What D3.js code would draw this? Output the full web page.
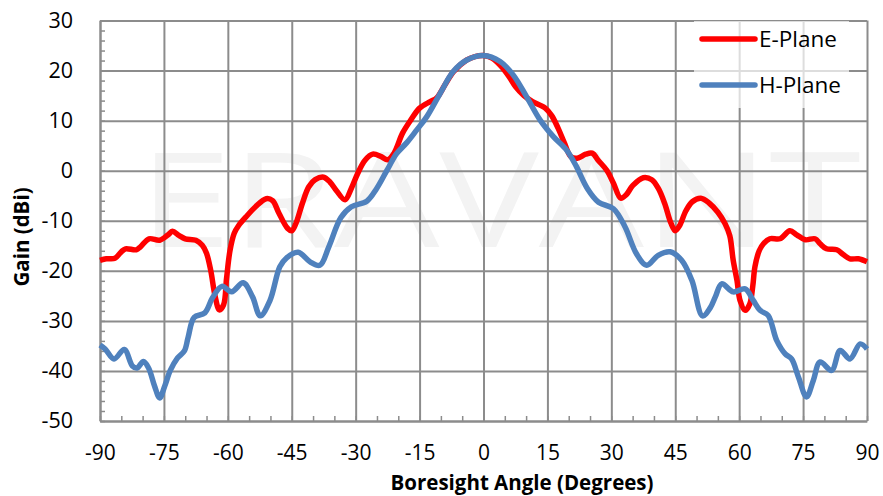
<!DOCTYPE html>
<html>
<head>
<meta charset="utf-8">
<script src="https://cdn.jsdelivr.net/npm/d3@7"></script>
<style>
  body { margin: 0; background: #fff; }
  svg { display: block; font-family: "Open Sans", "Noto Sans", sans-serif; }
</style>
</head>
<body>
<div id="chart"></div>
<script>
// series data: [angle in degrees, gain in dBi]
let ePlane = [
  [-90, -17.9], [-88.5, -17.6], [-86.5, -17.5], [-85, -16.2], [-84, -15.6], [-81.5, -15.8],
  [-80.5, -15.2], [-78.5, -13.6], [-76, -13.9], [-74, -12.8], [-73, -12.1], [-71.5, -12.9],
  [-70, -13.6], [-67.5, -13.9], [-66, -14.9], [-65, -16.5], [-64, -20], [-63, -25],
  [-62, -27.8], [-61, -26.8], [-60.3, -21.5], [-59.5, -16], [-58.5, -12.5], [-57.5, -11],
  [-55.5, -9], [-53.5, -7.2], [-51, -5.6], [-49.5, -6], [-48, -8.5], [-46, -11.5],
  [-45, -12], [-44, -10.5], [-42.5, -6.5], [-41, -3.2], [-39.5, -1.8], [-37.5, -1.3],
  [-36, -2.3], [-34.5, -4], [-32.5, -5.8], [-31, -3.5], [-29.5, -0.5], [-27.8, 2.1],
  [-26, 3.3], [-24, 2.8], [-22.5, 2.2], [-21, 3.5], [-19, 7.5], [-17, 10.2],
  [-15, 12.5], [-12.5, 13.8], [-11, 14.5], [-9, 17.2], [-7, 19.8], [-4, 22.1],
  [-2, 22.8], [0, 23], [2, 22.5], [4, 21], [6, 18.8], [7.5, 16.8],
  [9.5, 15], [11.5, 13.8], [14.5, 12.5], [16, 11], [17.5, 8.5], [19, 5.5],
  [20.5, 2.8], [22, 2.5], [24, 3.3], [25.5, 3.5], [27, 2], [29, 0],
  [30.5, -2.5], [32.2, -5.5], [33.5, -4.8], [35, -3], [37.5, -1.4], [39.5, -1.8],
  [41, -3.5], [42.5, -6.5], [44, -10.5], [45, -12], [46, -11], [47.5, -8],
  [49, -6.2], [51, -5.5], [53, -6.5], [55, -8.3], [56.7, -10.6], [57.8, -13],
  [58.6, -17.9], [59.5, -22], [60.2, -25.9], [61.4, -27.9], [62.5, -26.6], [63.2, -23],
  [63.7, -19.2], [64.7, -16], [65.7, -14.6], [67.2, -13.6], [69.6, -13.6], [71.9, -12],
  [73.5, -12.8], [75.5, -13.8], [77.8, -13.6], [79, -14.6], [80.5, -15.6], [82.9, -15.8],
  [84.5, -16.8], [86, -17.6], [88, -17.6], [90, -18.2]
];

let hPlane = [
  [-90, -34.8], [-88.8, -35.6], [-86.7, -37.6], [-84.3, -35.7], [-82.4, -39], [-81.3, -39.4],
  [-79.8, -38.1], [-78.6, -39.4], [-77.2, -43], [-76, -45.4], [-74.8, -43], [-73.5, -39.9],
  [-71.8, -37.4], [-70.2, -36], [-69.3, -33.2], [-67.9, -29.3], [-65.4, -28.4], [-63.6, -25.4],
  [-61.4, -23.1], [-59.1, -24.2], [-56.4, -22.4], [-54.2, -25.2], [-52.4, -29], [-50.1, -25.9],
  [-47.8, -19.2], [-46.2, -17.4], [-43.5, -16.3], [-40.7, -18.2], [-38.4, -18.9], [-36.3, -15.2],
  [-33.5, -9.4], [-31, -7.2], [-27.4, -6.1], [-25.1, -3.6], [-22.7, 0], [-20.4, 3.4],
  [-18, 5.6], [-15.7, 8.1], [-13.3, 10.8], [-10.2, 15.4], [-7.1, 19.8], [-3.9, 22.1],
  [0, 23], [3.9, 21.8], [7, 19.1], [10.1, 14.8], [13.3, 10.1], [16.4, 6.8],
  [19.5, 4.1], [21.7, 1], [24.4, -3.6], [27, -6.3], [30.5, -7.6], [33.2, -11.2],
  [35.9, -16.6], [38.3, -18.9], [41, -16.9], [43.8, -16.2], [46.5, -17.9], [48.9, -21.9],
  [51.4, -29], [53.2, -27.4], [54.4, -25.2], [55.9, -22.6], [58.6, -24.2], [61.4, -23.6],
  [63.3, -25.9], [64.9, -27.9], [66.8, -28.9], [68.8, -33.9], [70.8, -36.6], [72.3, -37.6],
  [73.9, -41.2], [75.8, -45.2], [77.4, -41.9], [79, -38.2], [81.7, -39.9], [83.7, -35.9],
  [86, -37.6], [88.4, -34.6], [90, -35.6]
];

let xTicks = [-90, -75, -60, -45, -30, -15, 0, 15, 30, 45, 60, 75, 90];
let yTicks = [30, 20, 10, 0, -10, -20, -30, -40, -50];
let seriesNames = ['E-Plane', 'H-Plane'];
let seriesColors = ['#ff0000', '#4f81bd'];

var width = 883,
    height = 496,
    plotLeft = 100,
    plotRight = 867,
    plotTop = 20.5,
    plotBottom = 421;

var x = d3.scaleLinear().domain([-90, 90]).range([plotLeft, plotRight]);
var y = d3.scaleLinear().domain([-50, 30]).range([plotBottom, plotTop]);

var svg = d3.select('#chart')
    .append('svg')
    .attr('width', width)
    .attr('height', height);

// watermark
svg.append('text')
    .attr('x', 139)
    .attr('y', 247)
    .attr('textLength', 722)
    .attr('lengthAdjust', 'spacingAndGlyphs')
    .style('font-size', '132px')
    .style('font-weight', 400)
    .style('fill', '#f3f3f3')
    .text('ERAVANT');

// grid
var gridColor = '#8c8c8c';
svg.append('g')
    .attr('transform', `translate(0,${plotBottom})`)
    .call(d3.axisBottom(x).tickValues(xTicks).tickSize(-(plotBottom - plotTop)).tickFormat(''))
    .call(g => g.select('.domain').remove())
    .call(g => g.selectAll('line').attr('stroke', gridColor).attr('stroke-width', 2));

svg.append('g')
    .attr('transform', `translate(${plotLeft},0)`)
    .call(d3.axisLeft(y).tickValues(yTicks).tickSize(-(plotRight - plotLeft)).tickFormat(''))
    .call(g => g.select('.domain').remove())
    .call(g => g.selectAll('line').attr('stroke', gridColor).attr('stroke-width', 2));

// minor ticks, pointing into the plot
svg.append('g')
    .attr('transform', `translate(${plotLeft},0)`)
    .call(d3.axisRight(y).tickValues(d3.range(-50, 31, 2)).tickSize(5).tickSizeOuter(0).tickFormat(''))
    .call(g => g.select('.domain').attr('stroke', gridColor).attr('stroke-width', 2))
    .call(g => g.selectAll('line').attr('stroke', gridColor).attr('stroke-width', 1.5));

svg.append('g')
    .attr('transform', `translate(0,${plotBottom})`)
    .call(d3.axisTop(x).tickValues(d3.range(-90, 91, 5)).tickSize(5).tickSizeOuter(0).tickFormat(''))
    .call(g => g.select('.domain').attr('stroke', gridColor).attr('stroke-width', 2))
    .call(g => g.selectAll('line').attr('stroke', gridColor).attr('stroke-width', 1.5));

// tick labels (plain hyphen minus, as in the original)
var fmt = d => String(d);
svg.append('g')
    .attr('transform', `translate(0,${plotBottom})`)
    .call(d3.axisBottom(x).tickValues(xTicks).tickSize(0).tickPadding(24).tickFormat(fmt))
    .call(g => g.select('.domain').remove())
    .call(g => g.selectAll('text').style('font-size', '21px').style('font-family', '"Open Sans", sans-serif').attr('fill', '#000'));

svg.append('g')
    .attr('transform', `translate(${plotLeft},0)`)
    .call(d3.axisLeft(y).tickValues(yTicks).tickSize(0).tickPadding(27).tickFormat(fmt))
    .call(g => g.select('.domain').remove())
    .call(g => g.selectAll('text').style('font-size', '21.5px').style('font-family', '"Open Sans", sans-serif').attr('fill', '#000'));

// axis titles
svg.append('text')
    .attr('x', 522)
    .attr('y', 490)
    .attr('text-anchor', 'middle')
    .style('font-size', '20.5px')
    .style('font-weight', 'bold')
    .text('Boresight Angle (Degrees)');

svg.append('text')
    .attr('transform', 'translate(29,237) rotate(-90)')
    .attr('text-anchor', 'middle')
    .style('font-size', '20.5px')
    .style('font-weight', 'bold')
    .text('Gain (dBi)');

// series
var line = d3.line()
    .x(d => x(d[0]))
    .y(d => y(d[1]))
    .curve(d3.curveCatmullRom.alpha(0.5));

[ePlane, hPlane].forEach(function(data, i) {
    svg.append('path')
        .datum(data)
        .attr('fill', 'none')
        .attr('stroke', seriesColors[i])
        .attr('stroke-width', 5.5)
        .attr('stroke-linejoin', 'round')
        .attr('d', line);
});

// legend
var legend = svg.append('g');
legend.append('rect')
    .attr('x', 694)
    .attr('y', 21)
    .attr('width', 155)
    .attr('height', 87)
    .attr('fill', '#fff')
    .attr('fill-opacity', 0.7);

seriesNames.forEach(function(name, i) {
    var ly = 39 + i * 46;
    legend.append('line')
        .attr('x1', 702).attr('x2', 755)
        .attr('y1', ly).attr('y2', ly)
        .attr('stroke', seriesColors[i])
        .attr('stroke-width', 5.5)
        .attr('stroke-linecap', 'round');
    legend.append('text')
        .attr('x', 759)
        .attr('y', ly + 8)
        .style('font-size', '22.5px')
        .text(name);
});
</script>
</body>
</html>
